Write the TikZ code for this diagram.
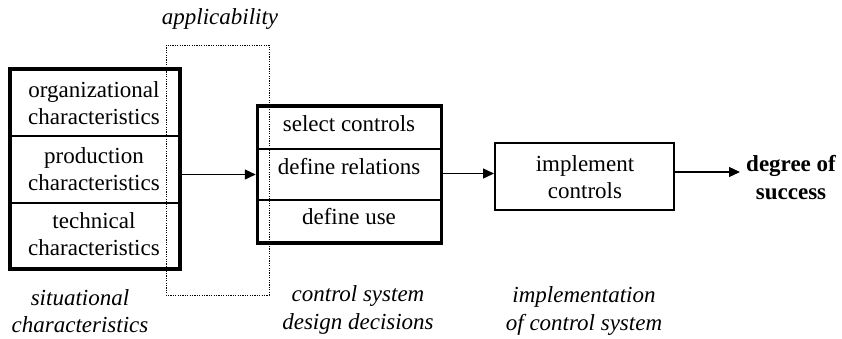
\documentclass[tikz,border=0pt]{standalone}
\usepackage{fontspec}
\setmainfont{Liberation Serif}
\usetikzlibrary{arrows.meta}
\begin{document}
\begin{tikzpicture}[x=1pt,y=-1pt,
  font=\fontsize{23}{27.5}\selectfont,
  thickbox/.style={draw, line width=3.5pt, minimum width=#1, inner sep=0pt},
  lbl/.style={inner sep=0pt, align=center},
  divider/.style={line width=1.3pt},
  conn/.style={line width=1.3pt, -{Triangle[length=11pt,width=10pt]}},
  dotbox/.style={line width=1pt, dash pattern=on 1.2pt off 1.2pt}]
\useasboundingbox (0,0) rectangle (842,338);
% left box
\node[thickbox=170pt, minimum height=200pt] (sit) at (95,169) {};
\draw[divider] (sit.west |- 0,136) -- (sit.east |- 0,136);
\draw[divider] (sit.west |- 0,203) -- (sit.east |- 0,203);
\node[lbl] (r1) at (94,103) {organizational\\characteristics};
\node[lbl] (r2) at (94,169) {production\\characteristics};
\node[lbl] (r3) at (94,234) {technical\\characteristics};
% middle box
\node[thickbox=184pt, minimum height=137pt] (mid) at (349.5,174.5) {};
\draw[divider] (mid.west |- 0,149) -- (mid.east |- 0,149);
\draw[divider] (mid.west |- 0,200) -- (mid.east |- 0,200);
\node[lbl] (m1) at (349,124) {select controls};
\node[lbl] (m2) at (349,167) {define relations};
\node[lbl] (m3) at (349,217) {define use};
% implement box
\node[draw, line width=2pt, minimum width=179pt, minimum height=67pt, inner sep=0pt] (impl) at (584.5,176.5) {};
\node[lbl] (it) at (585,177) {implement\\controls};
% result
\node[lbl, font=\fontsize{23}{27.5}\selectfont\bfseries, anchor=west] (deg) at (746,177.5) {degree of\\success};
% applicability dotted frame
\coordinate (dtl) at (166,45);
\coordinate (dbr) at (269,295);
\draw[dotbox] (dtl) rectangle (dbr);
\node[lbl, font=\fontsize{23}{27.5}\selectfont\itshape] (app) at (220,19) {applicability};
% captions
\node[lbl, font=\fontsize{23}{27.5}\selectfont\itshape] (c1) at (80,311) {situational\\characteristics};
\node[lbl, font=\fontsize{23}{27.5}\selectfont\itshape] (c2) at (358,310) {control system\\design decisions};
\node[lbl, font=\fontsize{23}{27.5}\selectfont\itshape] (c3) at (584,311) {implementation\\of control system};
% connectors
\draw[conn] (sit.east |- mid.west) -- (mid.west);
\draw[conn] ([yshift=3pt]mid.east |- impl.west) -- ([yshift=3pt]impl.west);
\draw[conn] ([yshift=4.5pt]impl.east) -- ([xshift=-6pt,yshift=4.5pt]impl.east -| deg.west);
\end{tikzpicture}
\end{document}
